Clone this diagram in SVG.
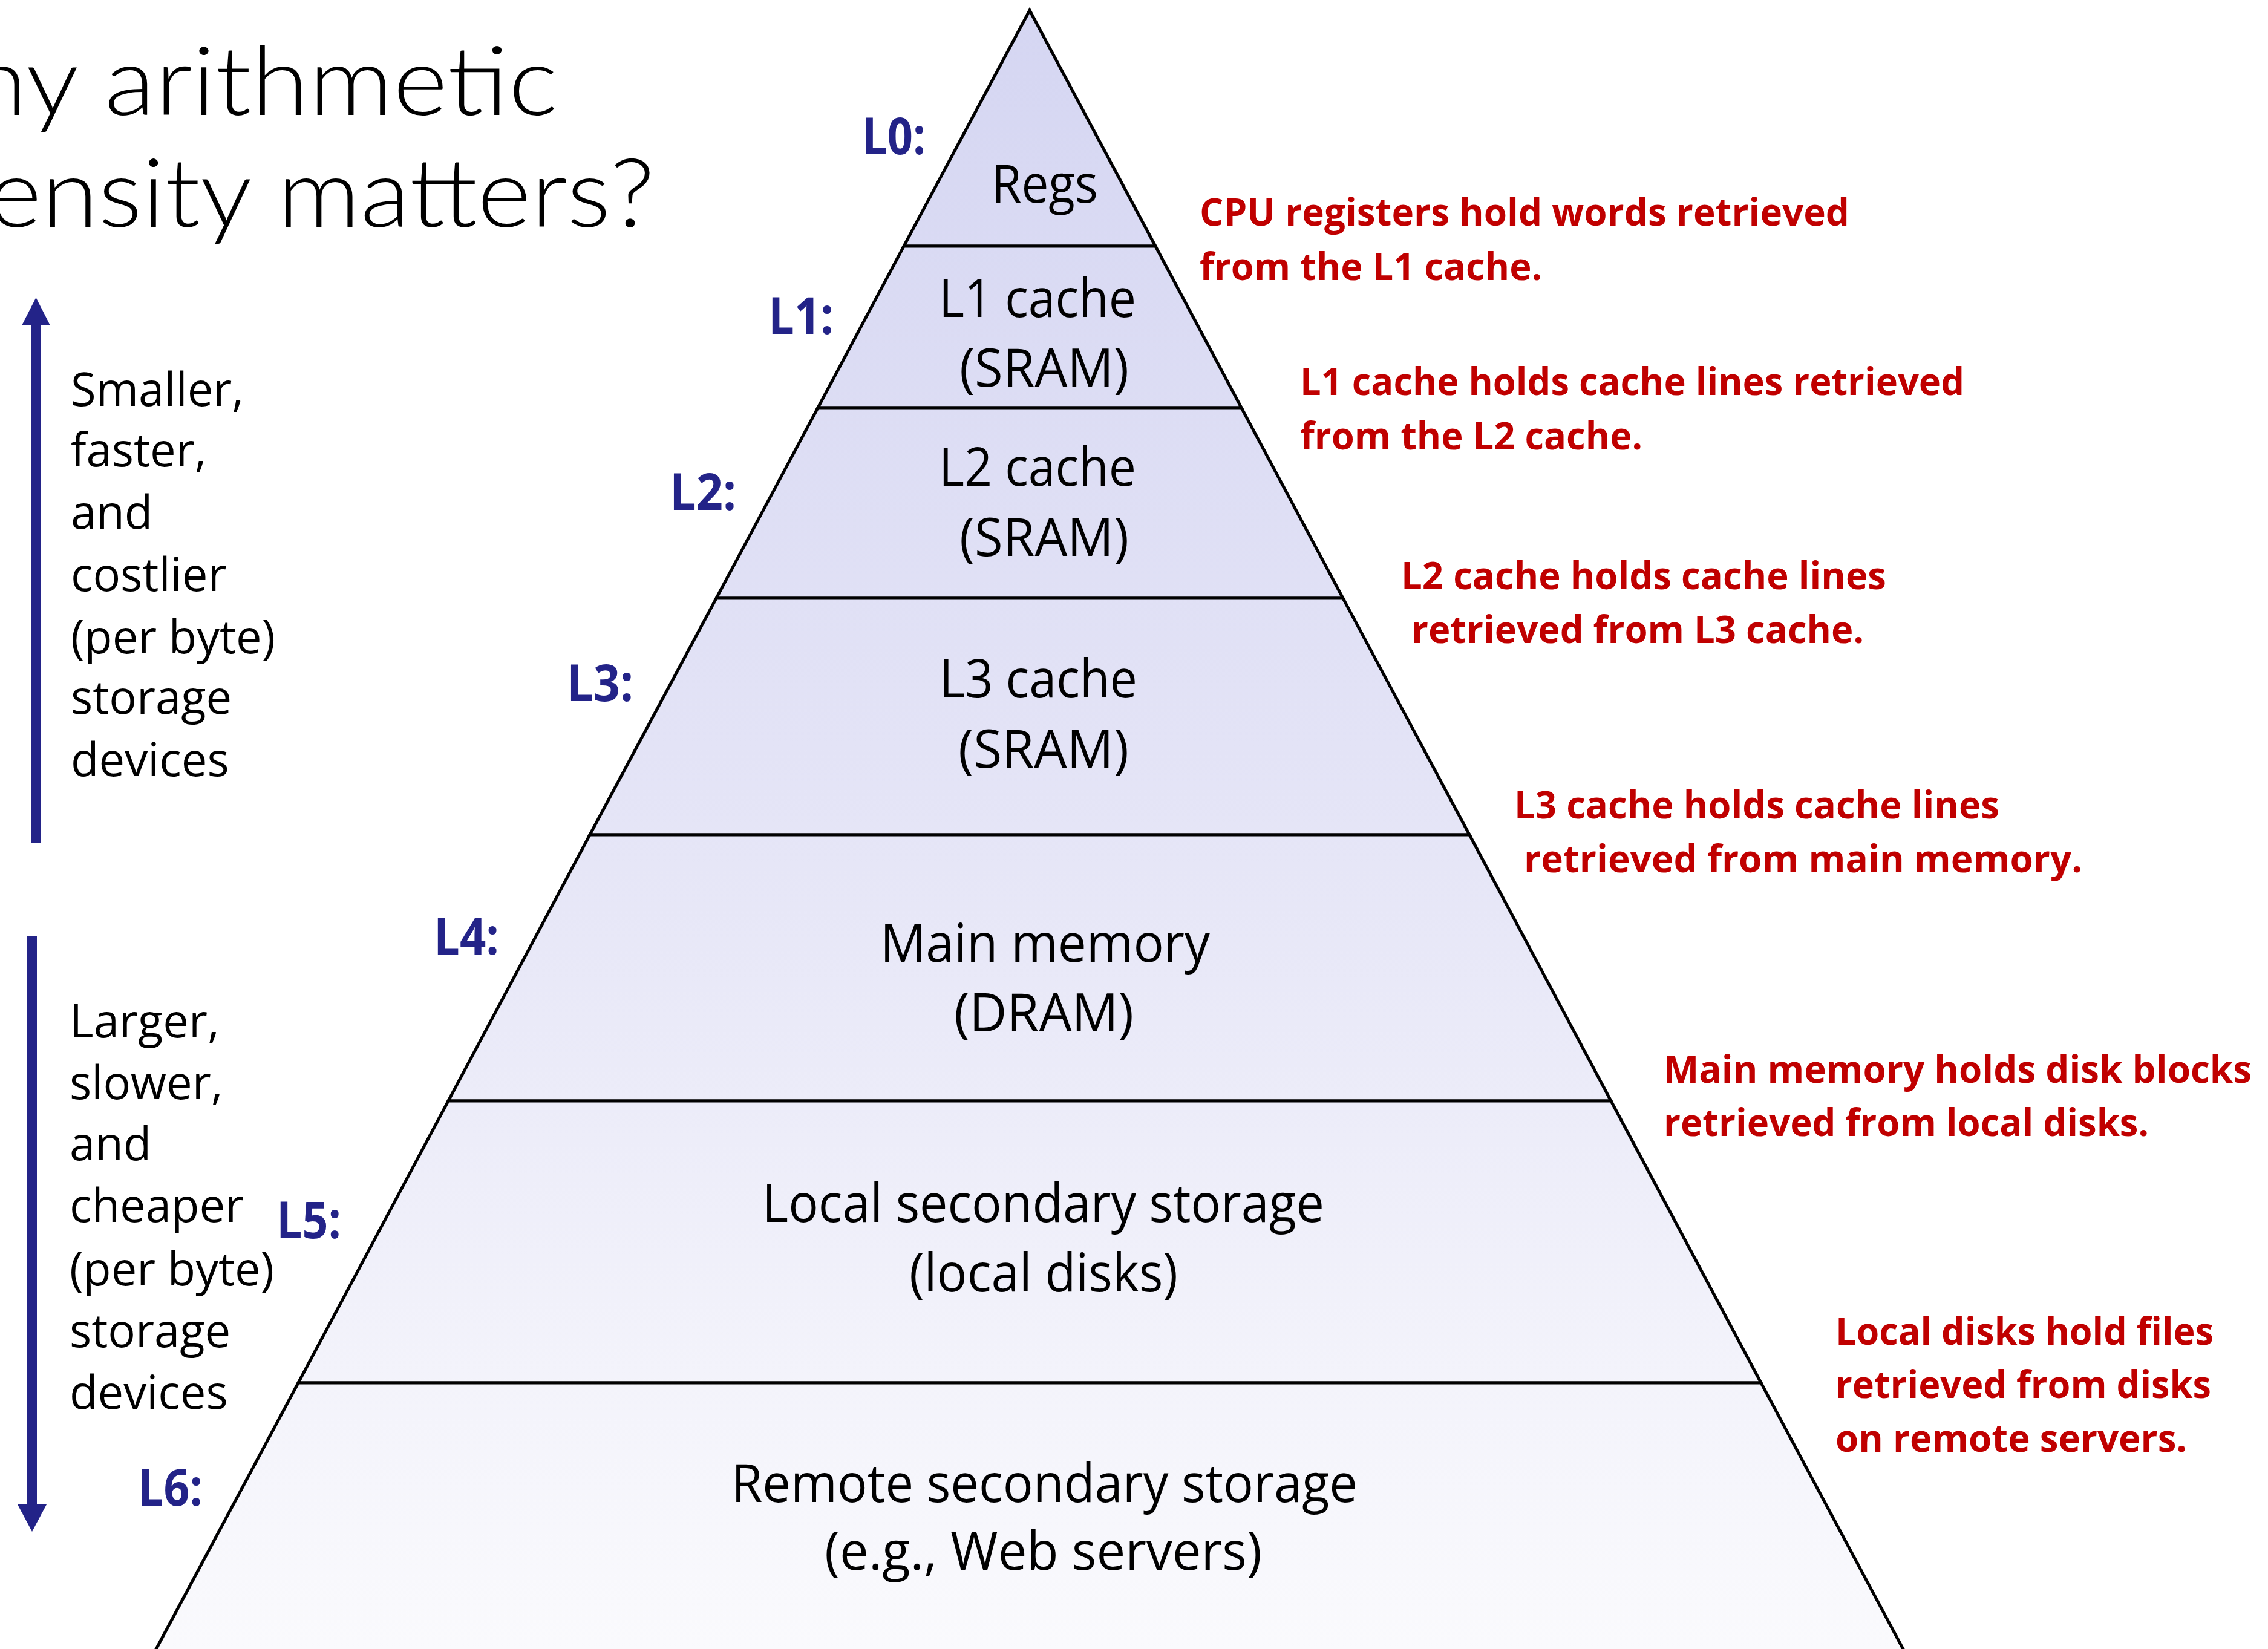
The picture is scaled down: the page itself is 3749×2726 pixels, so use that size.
<svg xmlns="http://www.w3.org/2000/svg" width="3749" height="2726" viewBox="0 0 3749 2726">
<style>
.tier{stroke:#000;stroke-width:5;stroke-linejoin:miter;fill:url(#pg)}
.c{font-family:"Open Sans","Noto Sans",sans-serif;font-size:88px;fill:#000}
.lv{font-family:"Open Sans","Noto Sans",sans-serif;font-weight:700;font-size:84px;fill:#232388}
.r{font-family:"Open Sans","Noto Sans",sans-serif;font-weight:700;font-size:63px;fill:#c00000}
.side{font-family:"Open Sans","Noto Sans",sans-serif;font-size:76px;fill:#000}
.title{font-family:Lato,"Liberation Sans",sans-serif;font-weight:300;font-size:158px;fill:#000}
.arr{fill:#232388}
</style>
<defs>
<linearGradient id="pg" gradientUnits="userSpaceOnUse" x1="0" y1="17" x2="0" y2="2726">
<stop offset="0" stop-color="#d5d6f2"/>
<stop offset="0.45" stop-color="#e3e3f6"/>
<stop offset="1" stop-color="#fafafd"/>
</linearGradient>
</defs>
<rect width="3749" height="2726" fill="#fff"/>

<g id="title">
<text class="title" x="-50" y="190" textLength="972" lengthAdjust="spacingAndGlyphs">ny arithmetic</text>
<text class="title" x="-20" y="375" textLength="1102" lengthAdjust="spacingAndGlyphs">ensity matters?</text>
</g>

<g id="tier-L0">
<polygon class="tier" points="1702,17 1910,407 1494,407"/>
<text class="c" x="1639" y="335" textLength="176" lengthAdjust="spacingAndGlyphs">Regs</text>
<text class="lv" x="1425" y="255" textLength="105" lengthAdjust="spacingAndGlyphs">L0:</text>
</g>
<g id="tier-L1">
<polygon class="tier" points="1494,407 1910,407 2052,674 1352,674"/>
<text class="c" x="1552" y="524" textLength="326" lengthAdjust="spacingAndGlyphs">L1 cache</text>
<text class="c" x="1586" y="639" textLength="280" lengthAdjust="spacingAndGlyphs">(SRAM)</text>
<text class="lv" x="1270" y="552" textLength="108" lengthAdjust="spacingAndGlyphs">L1:</text>
</g>
<g id="tier-L2">
<polygon class="tier" points="1352,674 2052,674 2220,989 1184,989"/>
<text class="c" x="1552" y="803" textLength="326" lengthAdjust="spacingAndGlyphs">L2 cache</text>
<text class="c" x="1586" y="919" textLength="280" lengthAdjust="spacingAndGlyphs">(SRAM)</text>
<text class="lv" x="1107" y="843" textLength="110" lengthAdjust="spacingAndGlyphs">L2:</text>
</g>
<g id="tier-L3">
<polygon class="tier" points="1184,989 2220,989 2429,1380 975,1380"/>
<text class="c" x="1553" y="1153" textLength="327" lengthAdjust="spacingAndGlyphs">L3 cache</text>
<text class="c" x="1584" y="1269" textLength="282" lengthAdjust="spacingAndGlyphs">(SRAM)</text>
<text class="lv" x="937" y="1159" textLength="110" lengthAdjust="spacingAndGlyphs">L3:</text>
</g>
<g id="tier-L4">
<polygon class="tier" points="975,1380 2429,1380 2663,1820 741,1820"/>
<text class="c" x="1455" y="1590" textLength="545" lengthAdjust="spacingAndGlyphs">Main memory</text>
<text class="c" x="1577" y="1705" textLength="297" lengthAdjust="spacingAndGlyphs">(DRAM)</text>
<text class="lv" x="717" y="1578" textLength="108" lengthAdjust="spacingAndGlyphs">L4:</text>
</g>
<g id="tier-L5">
<polygon class="tier" points="741,1820 2663,1820 2911,2286 493,2286"/>
<text class="c" x="1260" y="2020" textLength="929" lengthAdjust="spacingAndGlyphs">Local secondary storage</text>
<text class="c" x="1503" y="2135" textLength="444" lengthAdjust="spacingAndGlyphs">(local disks)</text>
<text class="lv" x="457" y="2047" textLength="107" lengthAdjust="spacingAndGlyphs">L5:</text>
</g>
<g id="tier-L6">
<polygon class="tier" points="493,2286 2911,2286 3164,2760 240,2760"/>
<text class="c" x="1209" y="2483" textLength="1035" lengthAdjust="spacingAndGlyphs">Remote secondary storage</text>
<text class="c" x="1363" y="2595" textLength="723" lengthAdjust="spacingAndGlyphs">(e.g., Web servers)</text>
<text class="lv" x="228" y="2489" textLength="107" lengthAdjust="spacingAndGlyphs">L6:</text>
</g>

<g id="notes">
<text class="r" x="1983" y="373" textLength="1074" lengthAdjust="spacingAndGlyphs">CPU registers hold words retrieved</text>
<text class="r" x="1983" y="463" textLength="566" lengthAdjust="spacingAndGlyphs">from the L1 cache.</text>
<text class="r" x="2149" y="653" textLength="1098" lengthAdjust="spacingAndGlyphs">L1 cache holds cache lines retrieved</text>
<text class="r" x="2149" y="743" textLength="566" lengthAdjust="spacingAndGlyphs">from the L2 cache.</text>
<text class="r" x="2316" y="974" textLength="802" lengthAdjust="spacingAndGlyphs">L2 cache holds cache lines</text>
<text class="r" x="2333" y="1063" textLength="748" lengthAdjust="spacingAndGlyphs">retrieved from L3 cache.</text>
<text class="r" x="2503" y="1353" textLength="802" lengthAdjust="spacingAndGlyphs">L3 cache holds cache lines</text>
<text class="r" x="2519" y="1442" textLength="923" lengthAdjust="spacingAndGlyphs">retrieved from main memory.</text>
<text class="r" x="2750" y="1790" textLength="972" lengthAdjust="spacingAndGlyphs">Main memory holds disk blocks</text>
<text class="r" x="2750" y="1878" textLength="802" lengthAdjust="spacingAndGlyphs">retrieved from local disks.</text>
<text class="r" x="3034" y="2223" textLength="625" lengthAdjust="spacingAndGlyphs">Local disks hold files</text>
<text class="r" x="3034" y="2311" textLength="621" lengthAdjust="spacingAndGlyphs">retrieved from disks</text>
<text class="r" x="3034" y="2400" textLength="581" lengthAdjust="spacingAndGlyphs">on remote servers.</text>
</g>

<g id="faster">
<text class="side" x="117" y="671">Smaller,</text>
<text class="side" x="117" y="771">faster,</text>
<text class="side" x="117" y="874">and</text>
<text class="side" x="117" y="977">costlier</text>
<text class="side" x="117" y="1080" textLength="338" lengthAdjust="spacingAndGlyphs">(per byte)</text>
<text class="side" x="117" y="1180">storage</text>
<text class="side" x="117" y="1283">devices</text>
</g>
<g id="slower">
<text class="side" x="115" y="1715">Larger,</text>
<text class="side" x="115" y="1817">slower,</text>
<text class="side" x="115" y="1918">and</text>
<text class="side" x="115" y="2020">cheaper</text>
<text class="side" x="115" y="2125" textLength="338" lengthAdjust="spacingAndGlyphs">(per byte)</text>
<text class="side" x="115" y="2227">storage</text>
<text class="side" x="115" y="2329">devices</text>
</g>

<g id="connectors">
<rect class="arr" x="52" y="536" width="15" height="858"/>
<polygon class="arr" points="36,538 83,538 59.5,492"/>
<rect class="arr" x="45" y="1548" width="16" height="941"/>
<polygon class="arr" points="29,2487 77,2487 53,2532"/>
</g>
</svg>
